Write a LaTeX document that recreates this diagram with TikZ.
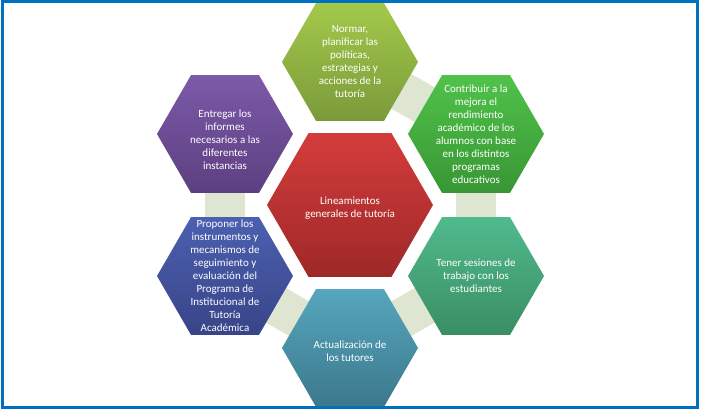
\documentclass[tikz,border=0pt]{standalone}
\usepackage{fontspec}
\setmainfont{Carlito}
\usetikzlibrary{shapes.geometric,backgrounds}
\begin{document}
\begin{tikzpicture}[x=1pt,y=-1pt,
  hexb/.style={regular polygon,regular polygon sides=6,inner sep=0pt,minimum size=136pt,draw=none},
  txt/.style={text=white,align=center,font=\fontsize{11}{13}\selectfont,inner sep=0pt},
  conn/.style={line width=40pt,color={rgb,255:red,222;green,230;blue,210}}]
\useasboundingbox (0,0) rectangle (701,412);
\node[hexb,top color={rgb,255:red,163;green,201;blue,74},bottom color={rgb,255:red,122;green,154;blue,58}] (t) at (350,62) {};
\node[txt] (tt) at (t) {Normar,\\planificar las\\políticas,\\estrategias y\\acciones de la\\tutoría};
\node[hexb,top color={rgb,255:red,80;green,194;blue,74},bottom color={rgb,255:red,56;green,150;blue,52}] (rt) at (476,134) {};
\node[txt] (rtt) at (rt) {Contribuir a la\\mejora el\\rendimiento\\académico de los\\alumnos con base\\en los distintos\\programas\\educativos};
\node[hexb,top color={rgb,255:red,80;green,186;blue,140},bottom color={rgb,255:red,58;green,142;blue,100}] (rb) at (476,276) {};
\node[txt] (rbt) at (rb) {Tener sesiones de\\trabajo con los\\estudiantes};
\node[hexb,top color={rgb,255:red,86;green,166;blue,190},bottom color={rgb,255:red,60;green,120;blue,140}] (b) at (350,348) {};
\node[txt] (bt) at ([yshift=-3pt]b) {Actualización de\\los tutores};
\node[hexb,top color={rgb,255:red,76;green,96;blue,176},bottom color={rgb,255:red,56;green,68;blue,136}] (lb) at (225,276) {};
\node[txt] (lbt) at (lb) {Proponer los\\instrumentos y\\mecanismos de\\seguimiento y\\evaluación del\\Programa de\\Institucional de\\Tutoría\\Académica};
\node[hexb,top color={rgb,255:red,124;green,90;blue,168},bottom color={rgb,255:red,92;green,63;blue,128}] (lt) at (225,134) {};
\node[txt] (ltt) at ([yshift=-6pt]lt) {Entregar los\\informes\\necesarios a las\\diferentes\\instancias};
\node[hexb,minimum size=166pt,top color={rgb,255:red,212;green,60;blue,60},bottom color={rgb,255:red,158;green,40;blue,40}] (c) at (350,205) {};
\node[txt] (ct) at ([yshift=-3pt]c) {Lineamientos\\generales de tutoría};
\begin{pgfonlayer}{background}
\draw[conn] (t.center) -- (rt.center);
\draw[conn] (rt.center) -- (rb.center);
\draw[conn] (rb.center) -- (b.center);
\draw[conn] (b.center) -- (lb.center);
\draw[conn] (lb.center) -- (lt.center);
\end{pgfonlayer}
\draw[color={rgb,255:red,0;green,112;blue,192},line width=3pt] (2,2) rectangle (697,407);
\end{tikzpicture}
\end{document}
